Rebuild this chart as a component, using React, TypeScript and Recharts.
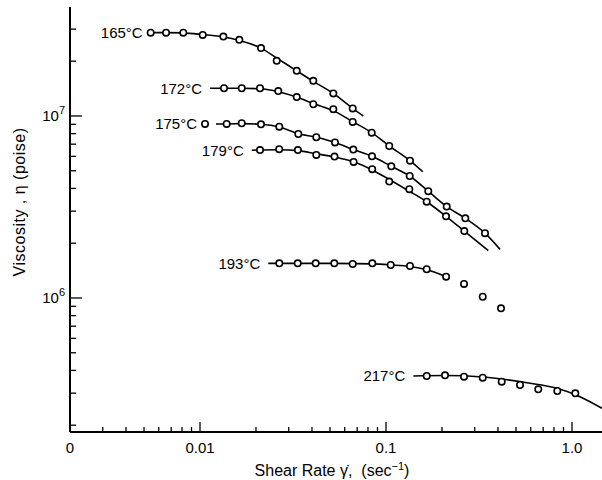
import React from "react";
import {
  ComposedChart,
  Line,
  Scatter,
  XAxis,
  YAxis,
} from "recharts";

const FONT = '"Liberation Sans", Arial, Helvetica, sans-serif';

// temperature labels, one per curve
const temps = ["165°C", "172°C", "175°C", "179°C", "193°C", "217°C"];

// measured points (shear rate, sec^-1 / viscosity, poise)
const obs165X = [0.00543, 0.00657, 0.00813, 0.01034, 0.01335, 0.01627, 0.02128, 0.02585, 0.03311, 0.04066, 0.05209, 0.06622];
const obs165Y = [2.87e7, 2.87e7, 2.87e7, 2.79e7, 2.73e7, 2.62e7, 2.36e7, 2.01e7, 1.77e7, 1.56e7, 1.33e7, 1.1e7];
const obs172X = [0.01346, 0.01676, 0.02102, 0.02636, 0.03311, 0.04066, 0.05209, 0.06622, 0.08379, 0.1041, 0.1346];
const obs172Y = [1.42e7, 1.42e7, 1.42e7, 1.37e7, 1.27e7, 1.16e7, 1.09e7, 9.27e6, 8.1e6, 6.84e6, 5.68e6];
const obs175X = [0.01064, 0.01391, 0.01676, 0.02128, 0.02669, 0.03377, 0.0422, 0.05318, 0.06672, 0.0841, 0.1068, 0.1341, 0.1688, 0.212, 0.267, 0.3406];
const obs175Y = [9.04e6, 9.04e6, 9.12e6, 9.0e6, 8.73e6, 7.96e6, 7.64e6, 7.16e6, 6.54e6, 6.0e6, 5.29e6, 4.68e6, 3.86e6, 3.18e6, 2.74e6, 2.27e6];
const obs179X = [0.02102, 0.02665, 0.0336, 0.0422, 0.05285, 0.06695, 0.0843, 0.1041, 0.1335, 0.1655, 0.2102, 0.2636];
const obs179Y = [6.5e6, 6.57e6, 6.5e6, 6.11e6, 5.98e6, 5.59e6, 5.1e6, 4.36e6, 3.96e6, 3.38e6, 2.81e6, 2.33e6];
const obs193X = [0.02669, 0.03352, 0.04188, 0.05273, 0.06622, 0.08441, 0.106, 0.1346, 0.1655, 0.2105, 0.2627, 0.3311, 0.4153];
const obs193Y = [1.55e6, 1.55e6, 1.55e6, 1.55e6, 1.537e6, 1.55e6, 1.518e6, 1.499e6, 1.438e6, 1.309e6, 1.194e6, 1.016e6, 8.77e5];
const obs217X = [0.1655, 0.2076, 0.2627, 0.3311, 0.4188, 0.5254, 0.6588, 0.8337, 1.042];
const obs217Y = [3.727e5, 3.761e5, 3.694e5, 3.648e5, 3.467e5, 3.326e5, 3.15e5, 3.083e5, 2.995e5];

// fitted curves
const fit165X = [0.00543, 0.00657, 0.00813, 0.01034, 0.01335, 0.01627, 0.02128, 0.02585, 0.03311, 0.04066, 0.05209, 0.06622, 0.0755];
const fit165Y = [2.87e7, 2.87e7, 2.86e7, 2.8e7, 2.72e7, 2.6e7, 2.36e7, 2.08e7, 1.77e7, 1.55e7, 1.33e7, 1.1e7, 1.0e7];
const fit172X = [0.01132, 0.01346, 0.01676, 0.02102, 0.02636, 0.03311, 0.04066, 0.05209, 0.06622, 0.08379, 0.1041, 0.1346, 0.1575];
const fit172Y = [1.42e7, 1.42e7, 1.42e7, 1.41e7, 1.36e7, 1.27e7, 1.17e7, 1.07e7, 9.3e6, 8.1e6, 6.84e6, 5.68e6, 4.94e6];
const fit175X = [0.01219, 0.01391, 0.01676, 0.02128, 0.02669, 0.03377, 0.0422, 0.05318, 0.06672, 0.0841, 0.1068, 0.1341, 0.1688, 0.212, 0.267, 0.3406, 0.4102];
const fit175Y = [9.04e6, 9.04e6, 9.08e6, 9.0e6, 8.7e6, 8.0e6, 7.64e6, 7.16e6, 6.54e6, 6.0e6, 5.29e6, 4.68e6, 3.86e6, 3.18e6, 2.74e6, 2.27e6, 1.85e6];
const fit179X = [0.01897, 0.02102, 0.02665, 0.0336, 0.0422, 0.05285, 0.06695, 0.0843, 0.1041, 0.1335, 0.1655, 0.2102, 0.2636, 0.3548];
const fit179Y = [6.48e6, 6.5e6, 6.52e6, 6.45e6, 6.2e6, 5.95e6, 5.6e6, 5.05e6, 4.48e6, 3.86e6, 3.38e6, 2.81e6, 2.33e6, 1.82e6];
const fit193X = [0.02329, 0.03352, 0.05273, 0.08441, 0.106, 0.1346, 0.1655, 0.2105];
const fit193Y = [1.55e6, 1.55e6, 1.55e6, 1.54e6, 1.52e6, 1.49e6, 1.43e6, 1.31e6];
const fit217X = [0.1402, 0.2076, 0.3311, 0.4153, 0.573, 0.8307, 1.104, 1.45];
const fit217Y = [3.727e5, 3.75e5, 3.68e5, 3.59e5, 3.42e5, 3.19e5, 2.87e5, 2.477e5];

// axes
const xDomain = [0.002, 1.45];
const yDomain = [1.835e5, 3.97e7];
const xMajorTicks = [0.002, 0.01, 0.1, 1];
const xMajorLabels = ["0", "0.01", "0.1", "1.0"];
const xMinorTicks = [
  0.003, 0.004, 0.005, 0.006, 0.007, 0.008, 0.009,
  0.02, 0.03, 0.04, 0.05, 0.06, 0.07, 0.08, 0.09,
  0.2, 0.3, 0.4, 0.5, 0.6, 0.7, 0.8, 0.9,
];
const yMajorTicks = [1e6, 1e7];
const yMajorExp = ["6", "7"];
const yMinorTicks = [
  2e5, 3e5, 4e5, 5e5, 6e5, 7e5, 8e5, 9e5,
  2e6, 3e6, 4e6, 5e6, 6e6, 7e6, 8e6, 9e6,
  2e7, 3e7,
];

const toPts = (xs: number[], ys: number[]) => xs.map((x, i) => ({ x, y: ys[i] }));

const series = [
  { obs: toPts(obs165X, obs165Y), fit: toPts(fit165X, fit165Y) },
  { obs: toPts(obs172X, obs172Y), fit: toPts(fit172X, fit172Y) },
  { obs: toPts(obs175X, obs175Y), fit: toPts(fit175X, fit175Y) },
  { obs: toPts(obs179X, obs179Y), fit: toPts(fit179X, fit179Y) },
  { obs: toPts(obs193X, obs193Y), fit: toPts(fit193X, fit193Y) },
  { obs: toPts(obs217X, obs217Y), fit: toPts(fit217X, fit217Y) },
];

// label sits left of whichever starts first, the curve or the first point
const labelData = series.map((s, i) => {
  const p = s.fit[0].x < s.obs[0].x ? s.fit[0] : s.obs[0];
  return { x: p.x, y: p.y, name: temps[i] };
});

const xTicks = [...xMajorTicks, ...xMinorTicks].sort((a, b) => a - b);
const yTicks = [...yMajorTicks, ...yMinorTicks].sort((a, b) => a - b);

function XTick({ x, y, payload }: any) {
  const v = payload.value;
  const mi = xMajorTicks.indexOf(v);
  const len = mi >= 0 ? 10 : 5;
  return (
    <g>
      {v !== xDomain[0] && (
        <line x1={x} x2={x} y1={y} y2={y - len} stroke="#000" strokeWidth={1.3} />
      )}
      {mi >= 0 && (
        <text x={x} y={y + 21} textAnchor="middle" fontSize={15} fontFamily={FONT} fill="#000">
          {xMajorLabels[mi]}
        </text>
      )}
    </g>
  );
}

function YTick({ x, y, payload }: any) {
  const v = payload.value;
  const mi = yMajorTicks.indexOf(v);
  const len = mi >= 0 ? 12 : 6;
  return (
    <g>
      <line x1={x} x2={x + len} y1={y} y2={y} stroke="#000" strokeWidth={1.3} />
      {mi >= 0 && (
        <text x={x - 5} y={y + 5} textAnchor="end" fontSize={15} fontFamily={FONT} fill="#000">
          10
          <tspan dy={-7} fontSize={11}>{yMajorExp[mi]}</tspan>
        </text>
      )}
    </g>
  );
}

const OpenCircle = ({ cx, cy }: any) => (
  <circle cx={cx} cy={cy} r={3.2} fill="#fff" stroke="#000" strokeWidth={1.6} />
);

const TempLabel = ({ cx, cy, payload }: any) => (
  <text x={cx - 8} y={cy} dy="0.35em" textAnchor="end" fontSize={15} fontFamily={FONT} fill="#000">
    {payload.name}
  </text>
);

const XTitle = ({ viewBox }: any) => (
  <text
    x={viewBox.x + 262}
    y={viewBox.y + 44}
    textAnchor="middle"
    fontSize={16}
    fontFamily={FONT}
    fill="#000"
    style={{ whiteSpace: "pre" }}
  >
    {"Shear Rate \u03B3\u0307,  (sec"}
    <tspan dy={-6} fontSize={11}>−1</tspan>
    <tspan dy={6}>)</tspan>
  </text>
);

const YTitle = ({ viewBox }: any) => {
  const cx = viewBox.x + 19;
  const cy = viewBox.y + 195;
  return (
    <text
      x={cx}
      y={cy}
      transform={`rotate(-90 ${cx} ${cy})`}
      textAnchor="middle"
      dominantBaseline="central"
      fontSize={16}
      letterSpacing={0.5}
      fontFamily={FONT}
      fill="#000"
    >
      Viscosity , η (poise)
    </text>
  );
};

export default function App() {
  return (
    <div style={{ position: "absolute", left: 0, top: 0, width: 602, height: 480, background: "#fff" }}>
      <ComposedChart width={602} height={480} margin={{ top: 7, right: 0, bottom: 0, left: 0 }}>
        <XAxis
          type="number"
          dataKey="x"
          scale="log"
          domain={xDomain}
          allowDataOverflow
          ticks={xTicks}
          interval={0}
          tick={<XTick />}
          tickLine={false}
          tickSize={0}
          tickMargin={0}
          height={48}
          axisLine={{ stroke: "#000", strokeWidth: 2 }}
          label={{ content: XTitle }}
        />
        <YAxis
          type="number"
          dataKey="y"
          scale="log"
          domain={yDomain}
          allowDataOverflow
          ticks={yTicks}
          interval={0}
          tick={<YTick />}
          tickLine={false}
          tickSize={0}
          tickMargin={0}
          width={70}
          axisLine={{ stroke: "#000", strokeWidth: 2 }}
          label={{ content: YTitle }}
        />
        {series.map((s, i) => (
          <Line
            key={`fit-${i}`}
            data={s.fit}
            dataKey="y"
            type="monotone"
            dot={false}
            activeDot={false}
            stroke="#000"
            strokeWidth={1.6}
            isAnimationActive={false}
          />
        ))}
        {series.map((s, i) => (
          <Scatter
            key={`obs-${i}`}
            data={s.obs}
            dataKey="y"
            shape={<OpenCircle />}
            isAnimationActive={false}
          />
        ))}
        <Scatter data={labelData} dataKey="y" shape={<TempLabel />} isAnimationActive={false} />
      </ComposedChart>
    </div>
  );
}
